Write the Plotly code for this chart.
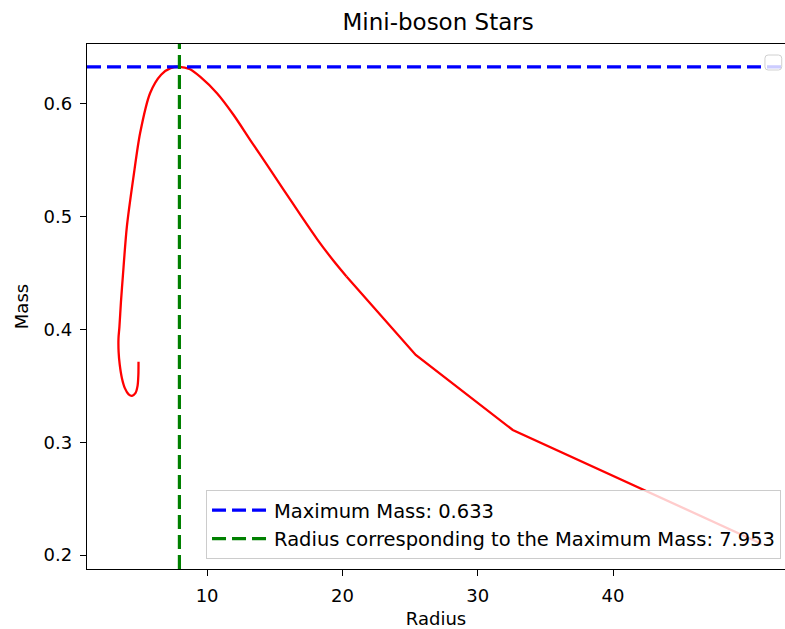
import plotly.graph_objects as go

# Mass-radius curve of mini-boson stars (spiral branch -> maximum -> dilute branch)
radius = [4.93, 4.92, 4.86, 4.70, 4.45, 4.20, 3.92, 3.70, 3.54, 3.46, 3.45,
          3.52, 3.63, 3.77, 4.07, 4.56, 5.05, 5.79, 6.60, 7.30, 7.953,
          8.70, 9.50, 10.73, 11.96, 13.20, 14.44, 15.67, 16.90, 18.14,
          19.37, 20.30, 25.42, 32.59, 51.0]
mass = [0.3714, 0.3600, 0.3500, 0.3435, 0.3412, 0.3425, 0.3480, 0.3570,
        0.3690, 0.3800, 0.3920, 0.4025, 0.4240, 0.4468, 0.4912, 0.5355,
        0.5743, 0.6098, 0.6260, 0.6318, 0.633,
        0.6310, 0.6240, 0.6095, 0.5902, 0.5678, 0.5458, 0.5237, 0.5016,
        0.4800, 0.4605, 0.4470, 0.3774, 0.3109, 0.2098]

# the sparse low-mass tail is drawn with straight segments
tail_start = 31

max_mass = 0.633
radius_at_max = 7.953

x_ticks = [10, 20, 30, 40]
y_ticks = [0.2, 0.3, 0.4, 0.5, 0.6]

x_range = [1.123, 52.71]
y_range = [0.1876, 0.6532]

FONT = "DejaVu Sans"
RED = "#ff0000"

fig = go.Figure()

fig.add_trace(go.Scatter(
    x=radius[:tail_start + 1], y=mass[:tail_start + 1], mode="lines",
    line=dict(color=RED, width=2.3, shape="spline", smoothing=0.8),
    showlegend=False, hoverinfo="skip",
))
fig.add_trace(go.Scatter(
    x=radius[tail_start:], y=mass[tail_start:], mode="lines",
    line=dict(color=RED, width=2.3),
    showlegend=False, hoverinfo="skip",
))

fig.add_trace(go.Scatter(
    x=x_range, y=[max_mass, max_mass], mode="lines",
    line=dict(color="#0000ff", width=3.2, dash="14px,6px"),
    name=f"Maximum Mass: {max_mass:.3f}",
))

fig.add_trace(go.Scatter(
    x=[radius_at_max, radius_at_max], y=y_range, mode="lines",
    line=dict(color="#008000", width=3.2, dash="14px,6px"),
    name=f"Radius corresponding to the Maximum Mass: {radius_at_max:.3f}",
))

# small empty legend frame in the upper-right corner (rounded corners)
x0, x1, y0, y1 = 0.9713, 0.9953, 0.9505, 0.979
rx, ry = 0.0045, 0.006
frame = (f"M {x0 + rx},{y0} L {x1 - rx},{y0} Q {x1},{y0} {x1},{y0 + ry} "
         f"L {x1},{y1 - ry} Q {x1},{y1} {x1 - rx},{y1} "
         f"L {x0 + rx},{y1} Q {x0},{y1} {x0},{y1 - ry} "
         f"L {x0},{y0 + ry} Q {x0},{y0} {x0 + rx},{y0} Z")
fig.add_shape(
    type="path", path=frame, xref="paper", yref="paper",
    line=dict(color="#d0d0d0", width=1),
    fillcolor="rgba(255,255,255,0.8)", layer="above",
)

axis_common = dict(
    showline=True, linecolor="black", linewidth=1.4,
    ticks="outside", ticklen=6, tickwidth=1.4, tickcolor="black",
    showgrid=False, zeroline=False,
    tickfont=dict(family=FONT, size=18, color="black"),
    ticklabelstandoff=4,
)

fig.update_xaxes(
    range=x_range, tickvals=x_ticks, mirror=True,
    title=dict(text="Radius", font=dict(family=FONT, size=18, color="black"), standoff=8),
    **axis_common,
)
fig.update_yaxes(
    range=y_range, tickvals=y_ticks, tickformat=".1f", mirror=False,
    title=dict(text="Mass", font=dict(family=FONT, size=18, color="black"), standoff=10),
    **axis_common,
)

fig.update_layout(
    width=785, height=629,
    margin=dict(l=87, r=0, t=44, b=60),
    plot_bgcolor="white", paper_bgcolor="white",
    font=dict(family=FONT, color="black"),
    title=dict(
        text="Mini-boson Stars", x=0.503, xref="paper", xanchor="center",
        y=1 - 22 / 629, yref="container", yanchor="middle",
        font=dict(family=FONT, size=23, color="black"),
    ),
    legend=dict(
        x=0.9943, xanchor="right", y=0.019, yanchor="bottom",
        bgcolor="rgba(255,255,255,0.8)", bordercolor="#cccccc", borderwidth=1,
        font=dict(family=FONT, size=19.5, color="black"),
        itemwidth=57, tracegroupgap=0,
    ),
)

fig.write_html("out.html")
